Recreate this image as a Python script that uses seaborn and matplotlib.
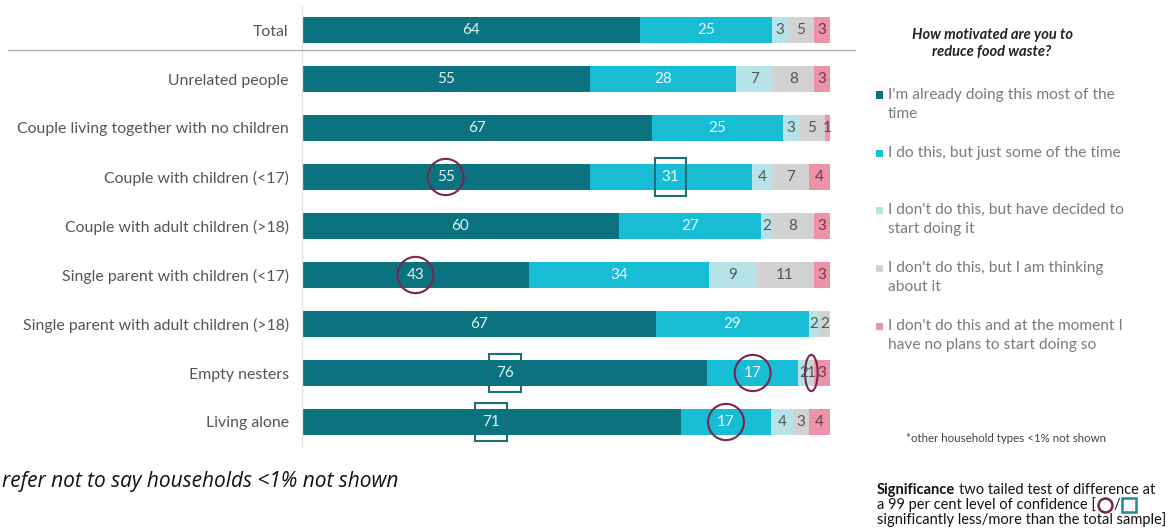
import numpy as np
import pandas as pd
import matplotlib.pyplot as plt
import seaborn as sns
from matplotlib.patches import Ellipse, Rectangle
from matplotlib.lines import Line2D

households = ["Total", "Unrelated people", "Couple living together with no children",
              "Couple with children (<17)", "Couple with adult children (>18)",
              "Single parent with children (<17)", "Single parent with adult children (>18)",
              "Empty nesters", "Living alone"]
doing_most = [64, 55, 67, 55, 60, 43, 67, 76, 71]
doing_some = [25, 28, 25, 31, 27, 34, 29, 17, 17]
decided = [3, 7, 3, 4, 2, 9, 2, 2, 4]
thinking = [5, 8, 5, 7, 8, 11, 2, 1, 3]
no_plans = [3, 3, 1, 4, 3, 3, 0, 3, 4]

legend_labels = [["I'm already doing this most of the", "time"],
                 ["I do this, but just some of the time"],
                 ["I don't do this, but have decided to", "start doing it"],
                 ["I don't do this, but I am thinking", "about it"],
                 ["I don't do this and at the moment I", "have no plans to start doing so"]]
colors = ["#0b7380", "#16bdd5", "#b6e3e8", "#d2d2d2", "#ec93a8"]
text_colors = ["#dff3f3", "#e6f8fb", "#555555", "#555555", "#6a3a48"]

# significance marks: (row, series)
less_marks = [(3, 0), (5, 0), (7, 1), (8, 1), (7, 3)]
more_marks = [(3, 1), (7, 0), (8, 0)]

series = [doing_most, doing_some, decided, thinking, no_plans]
# rounded values don't always add to 100, bars are drawn as shares of each row
raw = np.array(series, dtype=float)
shares = raw / raw.sum(axis=0) * 100

df = pd.DataFrame({"household": households})
cum = np.zeros(len(households))
lefts = []
for i in range(len(series)):
    lefts.append(cum.copy())
    cum = cum + shares[i]
    df[f"c{i}"] = cum

sns.set_theme(style="white")
plt.rcParams["font.family"] = ["Lato", "DejaVu Sans"]

fig = plt.figure(figsize=(11.74, 5.31), dpi=100)
ax = fig.add_axes([302 / 1174, 1 - 446.5 / 531, 528 / 1174, 441 / 531])

for i in reversed(range(len(series))):
    sns.barplot(data=df, x=f"c{i}", y="household", color=colors[i], width=0.53,
                errorbar=None, orient="h", order=households, ax=ax, saturation=1,
                linewidth=0)

for i, s in enumerate(series):
    for r, v in enumerate(s):
        if v <= 0:
            continue
        ax.text(lefts[i][r] + shares[i][r] / 2, r, str(v), ha="center", va="center",
                color=text_colors[i], fontsize=11)

for r, i in less_marks:
    v = series[i][r]
    w = 6.8 if v >= 5 else 2.4
    ax.add_patch(Ellipse((lefts[i][r] + shares[i][r] / 2, r), w, 0.74, fill=False,
                         edgecolor="#7a2450", linewidth=1.5, clip_on=False))
for r, i in more_marks:
    cx = lefts[i][r] + shares[i][r] / 2
    ax.add_patch(Rectangle((cx - 3.0, r - 0.39), 6.0, 0.78, fill=False,
                           edgecolor="#1d6e78", linewidth=1.5, clip_on=False))

ax.set_xlim(0, 100)
ax.set_ylim(8.5, -0.5)
ax.set_xlabel("")
ax.set_ylabel("")
ax.set_xticks([])
ax.tick_params(axis="y", length=0, pad=9.5, labelsize=11.4, labelcolor="#555555")
for side in ["top", "right", "bottom"]:
    ax.spines[side].set_visible(False)
ax.spines["left"].set_color("#e3e3e3")
ax.spines["left"].set_linewidth(1)

# separator under Total
fig.add_artist(Line2D([8 / 1174, 855 / 1174], [1 - 50 / 531] * 2, color="#b0b0b0",
                      linewidth=1, transform=fig.transFigure))

# legend
fig.text(992 / 1174, 1 - 35 / 531, "How motivated are you to", ha="center", va="center",
         fontsize=10.5, fontweight="bold", fontstyle="italic", color="#222222")
fig.text(992 / 1174, 1 - 52 / 531, "reduce food waste?", ha="center", va="center",
         fontsize=10.5, fontweight="bold", fontstyle="italic", color="#222222")
legend_y = [95, 153, 210, 268, 326]
for col, lines, y0 in zip(colors, legend_labels, legend_y):
    fig.add_artist(Rectangle((876 / 1174, 1 - (y0 + 3.5) / 531), 7 / 1174, 7 / 531,
                             facecolor=col, edgecolor="none", transform=fig.transFigure))
    for k, line in enumerate(lines):
        fig.text(888 / 1174, 1 - (y0 + k * 19) / 531, line, ha="left", va="center",
                 fontsize=11.2, color="#7a7a7a")

fig.text(906 / 1174, 1 - 438 / 531, "*other household types <1% not shown", ha="left",
         va="center", fontsize=8.3, color="#444444")

fig.text(2 / 1174, 1 - 482 / 531, "refer not to say households <1% not shown", ha="left",
         va="center", fontsize=15, fontstyle="italic", color="#111111",
         family=["Open Sans", "DejaVu Sans"])

# significance note
renderer = fig.canvas.get_renderer()
x0 = 877 / 1174
fs = 10.5
t = fig.text(x0, 1 - 490 / 531, "Significance", ha="left", va="center", fontsize=fs,
             fontweight="bold", color="#111111")
bb = t.get_window_extent(renderer).transformed(fig.transFigure.inverted())
fig.text(bb.x1 + 4 / 1174, 1 - 490 / 531, "two tailed test of difference at", ha="left",
         va="center", fontsize=fs, color="#111111")
t2 = fig.text(x0, 1 - 505 / 531, "a 99 per cent level of confidence [", ha="left",
              va="center", fontsize=fs, color="#111111")
bb2 = t2.get_window_extent(renderer).transformed(fig.transFigure.inverted())
cx = bb2.x1 + 9 / 1174
fig.add_artist(Line2D([cx], [1 - 505 / 531], marker="o", markersize=10, markerfacecolor="none",
                      markeredgecolor="#7a2450", markeredgewidth=1.8, transform=fig.transFigure))
fig.text(cx + 9 / 1174, 1 - 505 / 531, "/", ha="left", va="center", fontsize=fs,
         color="#111111")
fig.add_artist(Line2D([cx + 24 / 1174], [1 - 505 / 531], marker="s", markersize=10,
                      markerfacecolor="none", markeredgecolor="#1d8a96", markeredgewidth=1.8,
                      transform=fig.transFigure))
fig.text(x0, 1 - 520 / 531, "significantly less/more than the total sample]", ha="left",
         va="center", fontsize=fs, color="#111111")

fig.savefig("out.png", dpi=100)
